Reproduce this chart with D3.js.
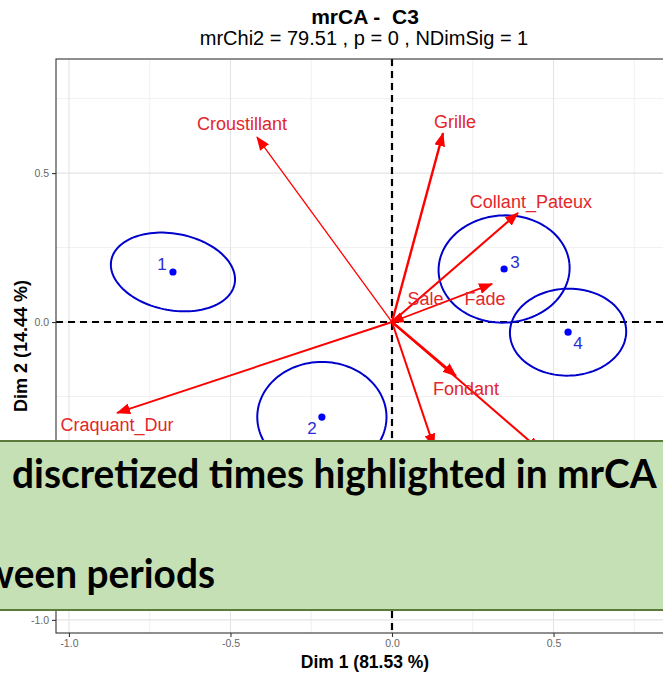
<!DOCTYPE html>
<html>
<head>
<meta charset="utf-8">
<script src="https://cdn.jsdelivr.net/npm/d3@7"></script>
<style>
  html, body { margin: 0; padding: 0; background: #fff; overflow: hidden; }
  svg { display: block; }
  text { white-space: pre; }
</style>
</head>
<body>
<svg id="chart" width="663" height="673"></svg>
<script>
// Attribute vectors (Dim 1, Dim 2)
const attributes = ["Croustillant", "Grille", "Collant_Pateux", "Fade", "Sale", "Fondant", "Craquant_Dur", "", ""];
const attrDim1 = [-0.418, 0.158, 0.390, 0.310, -0.004, 0.198, -0.851, 0.130, 0.458];
const attrDim2 = [ 0.621, 0.634, 0.366, 0.128, -0.002, -0.181, -0.305, -0.419, -0.430];
// Label anchors for the attribute names (data units)
const attrLabelDim1 = [-0.464, 0.195, 0.430, 0.288, 0.104, 0.229, -0.851, null, null];
const attrLabelDim2 = [ 0.664, 0.671, 0.403, 0.077, 0.077, -0.225, -0.346, null, null];

// Discretized periods with confidence ellipses
const periods = ["1", "2", "3", "4"];
const periodDim1 = [-0.678, -0.217, 0.347, 0.545];
const periodDim2 = [ 0.168, -0.319, 0.178, -0.034];
const ellipseA = [0.195, 0.200, 0.203, 0.180];
const ellipseB = [0.128, 0.185, 0.180, 0.146];
const ellipseAngle = [-13, 0, 5, 2];

const xTicks = [-1.0, -0.5, 0.0, 0.5];
const yTicks = [-1.0, -0.5, 0.0, 0.5];
const xMinor = [-0.75, -0.25, 0.25, 0.75];
const yMinor = [-0.75, -0.25, 0.25, 0.75];

const title = "mrCA -  C3";
const subtitle = "mrChi2 = 79.51 , p = 0 , NDimSig = 1";
const xTitle = "Dim 1 (81.53 %)";
const yTitle = "Dim 2 (14.44 %)";
const noteLines = ["discretized times highlighted in mrCA", "between periods"];

// ---------------------------------------------------------------
const FONT = "'Liberation Sans', Arial, sans-serif";
const svg = d3.select("#chart");
const panel = { left: 56, right: 675, top: 59, bottom: 633 };

const x = d3.scaleLinear().domain([-1.04, 0.876]).range([panel.left, panel.right]);
const y = d3.scaleLinear().domain([-1.044, 0.883]).range([panel.bottom, panel.top]);

const defs = svg.append("defs");
defs.append("clipPath").attr("id", "panelClip")
  .append("rect")
  .attr("x", panel.left).attr("y", panel.top)
  .attr("width", panel.right - panel.left).attr("height", panel.bottom - panel.top);

defs.append("marker")
  .attr("id", "head")
  .attr("markerUnits", "userSpaceOnUse")
  .attr("viewBox", "0 0 14 11")
  .attr("markerWidth", 14).attr("markerHeight", 11)
  .attr("refX", 13).attr("refY", 5.5)
  .attr("orient", "auto")
  .append("path").attr("d", "M0,0 L14,5.5 L0,11 Z").attr("fill", "#ff0000");

// Panel background and grid
svg.append("rect")
  .attr("x", panel.left).attr("y", panel.top)
  .attr("width", panel.right - panel.left).attr("height", panel.bottom - panel.top)
  .attr("fill", "#fff");

const grid = svg.append("g").attr("clip-path", "url(#panelClip)");
grid.selectAll("line.vminor").data(xMinor).join("line")
  .attr("x1", d => x(d)).attr("x2", d => x(d))
  .attr("y1", panel.top).attr("y2", panel.bottom)
  .attr("stroke", "#ececec").attr("stroke-width", 0.8);
grid.selectAll("line.hminor").data(yMinor).join("line")
  .attr("y1", d => y(d)).attr("y2", d => y(d))
  .attr("x1", panel.left).attr("x2", panel.right)
  .attr("stroke", "#ececec").attr("stroke-width", 0.8);
grid.selectAll("line.vmajor").data(xTicks).join("line")
  .attr("x1", d => x(d)).attr("x2", d => x(d))
  .attr("y1", panel.top).attr("y2", panel.bottom)
  .attr("stroke", "#e4e4e4").attr("stroke-width", 1.1);
grid.selectAll("line.hmajor").data(yTicks).join("line")
  .attr("y1", d => y(d)).attr("y2", d => y(d))
  .attr("x1", panel.left).attr("x2", panel.right)
  .attr("stroke", "#e4e4e4").attr("stroke-width", 1.1);

// Reference axes through the origin
const plot = svg.append("g").attr("clip-path", "url(#panelClip)");
plot.append("line")
  .attr("x1", x(0)).attr("x2", x(0)).attr("y1", panel.top).attr("y2", panel.bottom)
  .attr("stroke", "#000").attr("stroke-width", 2.2).attr("stroke-dasharray", "7,5");
plot.append("line")
  .attr("y1", y(0)).attr("y2", y(0)).attr("x1", panel.left).attr("x2", panel.right)
  .attr("stroke", "#000").attr("stroke-width", 2.2).attr("stroke-dasharray", "7,5");

// Confidence ellipses
const ellipseData = periods.map((p, i) => ({
  cx: periodDim1[i], cy: periodDim2[i], a: ellipseA[i], b: ellipseB[i], ang: ellipseAngle[i] * Math.PI / 180
}));
const line = d3.line().x(d => x(d[0])).y(d => y(d[1]));
plot.selectAll("path.ellipse").data(ellipseData).join("path")
  .attr("d", e => {
    const pts = d3.range(0, 361, 3).map(t => {
      const r = t * Math.PI / 180;
      const u = e.a * Math.cos(r), v = e.b * Math.sin(r);
      return [e.cx + u * Math.cos(e.ang) - v * Math.sin(e.ang),
              e.cy + u * Math.sin(e.ang) + v * Math.cos(e.ang)];
    });
    return line(pts);
  })
  .attr("fill", "none").attr("stroke", "#0000cd").attr("stroke-width", 2);

// Attribute arrows
const arrowWidth = { "Croustillant": 1.3, "Grille": 2.4, "Collant_Pateux": 2.1, "Fade": 1.8, "Sale": 1.8,
                     "Fondant": 2.4, "Craquant_Dur": 1.9 };
const arrowData = attributes.map((name, i) => ({
  name, dx: attrDim1[i], dy: attrDim2[i], lx: attrLabelDim1[i], ly: attrLabelDim2[i]
}));
plot.selectAll("line.arrow").data(arrowData).join("line")
  .attr("x1", x(0)).attr("y1", y(0))
  .attr("x2", d => x(d.dx)).attr("y2", d => y(d.dy))
  .attr("stroke", "#ff0000")
  .attr("stroke-width", d => arrowWidth[d.name] || 2)
  .attr("marker-end", "url(#head)");

plot.selectAll("text.attr").data(arrowData.filter(d => d.name)).join("text")
  .attr("x", d => x(d.lx)).attr("y", d => y(d.ly))
  .attr("text-anchor", "middle").attr("dominant-baseline", "central")
  .attr("font-family", FONT).attr("font-size", 18)
  .attr("fill", "#e3262a")
  .text(d => d.name);

// Period centroids
const labelOffset = [[-11, -7], [-10, 11], [11, -7], [10, 11]];
plot.selectAll("circle.period").data(ellipseData).join("circle")
  .attr("cx", d => x(d.cx)).attr("cy", d => y(d.cy)).attr("r", 3.6)
  .attr("fill", "#0000ff");
plot.selectAll("text.period").data(periods).join("text")
  .attr("x", (d, i) => x(periodDim1[i]) + labelOffset[i][0])
  .attr("y", (d, i) => y(periodDim2[i]) + labelOffset[i][1])
  .attr("text-anchor", "middle").attr("dominant-baseline", "central")
  .attr("font-family", FONT).attr("font-size", 17)
  .attr("fill", "#2b2bd6")
  .text(d => d);

// Panel border
svg.append("rect")
  .attr("x", panel.left).attr("y", panel.top)
  .attr("width", panel.right - panel.left).attr("height", panel.bottom - panel.top)
  .attr("fill", "none").attr("stroke", "#333").attr("stroke-width", 1.1);

// Axes
const fmt = d => d.toFixed(1);
const xAxis = svg.append("g").attr("transform", `translate(0,${panel.bottom})`)
  .call(d3.axisBottom(x).tickValues(xTicks).tickFormat(fmt).tickSize(4).tickPadding(3));
const yAxis = svg.append("g").attr("transform", `translate(${panel.left},0)`)
  .call(d3.axisLeft(y).tickValues(yTicks).tickFormat(fmt).tickSize(4).tickPadding(3));
[xAxis, yAxis].forEach(g => {
  g.select(".domain").remove();
  g.selectAll(".tick line").attr("stroke", "#333").attr("stroke-width", 1.1);
  g.selectAll(".tick text").attr("fill", "#666").attr("font-family", FONT).attr("font-size", 10.5);
});

// Titles
svg.append("text").attr("x", 365).attr("y", 24)
  .attr("text-anchor", "middle").attr("font-family", FONT).attr("font-weight", "bold")
  .attr("font-size", 21).attr("fill", "#000").text(title);
svg.append("text").attr("x", 364).attr("y", 45)
  .attr("text-anchor", "middle").attr("font-family", FONT)
  .attr("font-size", 20).attr("fill", "#000").text(subtitle);
svg.append("text").attr("x", 365).attr("y", 668)
  .attr("text-anchor", "middle").attr("font-family", FONT).attr("font-weight", "bold")
  .attr("font-size", 17.5).attr("fill", "#000").text(xTitle);
svg.append("text")
  .attr("transform", `translate(27,${(panel.top + panel.bottom) / 2}) rotate(-90)`)
  .attr("text-anchor", "middle").attr("font-family", FONT).attr("font-weight", "bold")
  .attr("font-size", 18).attr("fill", "#000").text(yTitle);

// Overlaid note box
svg.append("rect")
  .attr("x", -3).attr("y", 441).attr("width", 670).attr("height", 169)
  .attr("fill", "#c5e0b4").attr("stroke", "#5b7b3a").attr("stroke-width", 2);
const note = svg.append("g");
const t1 = note.append("text").attr("x", 0).attr("y", 0)
  .attr("font-family", "Lato, 'Open Sans', sans-serif").attr("font-weight", "bold")
  .attr("font-size", 40).attr("fill", "#000").text(noteLines[0]);
const w1 = t1.node().getComputedTextLength();
const sx = 645 / w1;
t1.attr("transform", `translate(12,488) scale(${sx},1)`);
note.append("text")
  .attr("transform", `translate(215,588) scale(${sx},1)`)
  .attr("text-anchor", "end")
  .attr("font-family", "Lato, 'Open Sans', sans-serif").attr("font-weight", "bold")
  .attr("font-size", 40).attr("fill", "#000").text(noteLines[1]);
</script>
</body>
</html>
